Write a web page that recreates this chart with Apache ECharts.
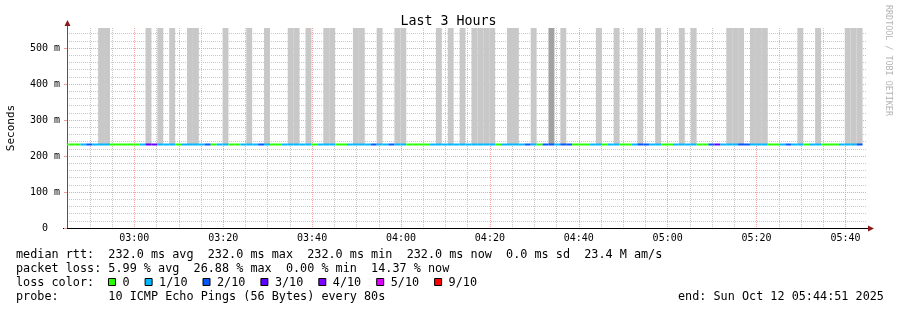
<!DOCTYPE html>
<html><head><meta charset="utf-8">
<script src="https://cdn.jsdelivr.net/npm/echarts@6/dist/echarts.min.js"></script>
<style>html,body{margin:0;padding:0;background:#fff}#c{width:897px;height:310px}</style>
</head><body><div id="c"></div>
<script>
// ---------------- data ----------------
const titleText = 'Last 3 Hours';
const yAxisName = 'Seconds';
const windowStart = '2025-10-12T02:44:51';
const windowEnd = '2025-10-12T05:44:51';
const firstStepStart = '2025-10-12T02:43:51';
const stepSeconds = 80;
const yMaxMs = 555.6;

// median rtt per 80 s step (ms)
const medianMs = [
  232,232,232,232,232,232,232,232,232,232, 232,232,232,232,232,232,232,232,232,232,
  232,232,232,232,232,232,232,232,232,232, 232,232,232,232,232,232,232,232,232,232,
  232,232,232,232,232,232,232,232,232,232, 232,232,232,232,232,232,232,232,232,232,
  232,232,232,232,232,232,232,232,232,232, 232,232,232,232,232,232,232,232,232,232,
  232,232,232,232,232,232,232,232,232,232, 232,232,232,232,232,232,232,232,232,232,
  232,232,232,232,232,232,232,232,232,232, 232,232,232,232,232,232,232,232,232,232,
  232,232,232,232,232,232,232,232,232,232, 232,232,232,232,232
];
// lost pings (of 10) per step
const lossTenths = [
  0,0,0,1,2,1,1,1,0,0, 0,0,0,1,3,3,1,1,1,0,
  1,1,1,1,2,0,1,1,0,0, 1,1,1,2,1,0,0,1,1,1,
  1,1,0,1,1,1,0,0,1,1, 1,1,2,1,1,2,1,1,0,0,
  0,0,1,1,1,1,1,1,1,1, 1,1,1,0,1,1,1,1,2,1,
  0,2,2,1,2,2,0,0,0,1, 1,0,1,1,0,0,1,2,2,1,
  1,0,0,1,1,1,1,0,0,2, 3,1,1,1,2,2,1,1,1,0,
  0,1,2,1,1,0,1,1,0,0, 0,1,1,1,2
];
// smoke layers reaching the top per step (0 none, 1 light, 2 dark)
const smokeLayers = [
  0,0,0,0,0,0,1,1,0,0, 0,0,0,0,1,0,1,0,1,0,
  0,1,1,0,0,0,0,1,0,0, 0,1,0,0,1,0,0,0,1,1,
  0,1,0,0,1,1,0,0,0,1, 1,0,0,1,0,0,1,1,0,0,
  0,0,0,1,0,1,0,1,0,1, 1,1,1,0,0,1,1,0,0,1,
  0,0,2,0,1,0,0,0,0,0, 1,0,0,1,0,0,0,1,0,0,
  1,0,0,0,1,0,1,0,0,0, 0,0,1,1,1,0,1,1,1,0,
  0,0,0,0,1,0,0,1,0,0, 0,0,1,1,1
];
const lossLevels = [0, 1, 2, 3, 4, 5, 9];
const lossLabels = ['0', '1/10', '2/10', '3/10', '4/10', '5/10', '9/10'];
const statLines = [
  'median rtt:  232.0 ms avg  232.0 ms max  232.0 ms min  232.0 ms now  0.0 ms sd  23.4 M am/s',
  'packet loss: 5.99 % avg  26.88 % max  0.00 % min  14.37 % now'
];
const lossColorLabel = 'loss color:';
const probeText = 'probe:       10 ICMP Echo Pings (56 Bytes) every 80s';
const endText = 'end: Sun Oct 12 05:44:51 2025';
const watermark = 'RRDTOOL / TOBI OETIKER';

// ---------------- styles ----------------
const lossColorMap = {0:'#26ff00',1:'#00b8ff',2:'#0059ff',3:'#5e00ff',4:'#7e00ff',5:'#dd00ff',9:'#ff0000'};
const smokeColors = {1:'#c8c8c8', 2:'#a2a2a2'};
const MONO = '"DejaVu Sans Mono", monospace';
const LEGEND_FONT = '11.8px ' + MONO;

// ---------------- build ----------------
const t0 = new Date(firstStepStart).getTime();
const steps = medianMs.map((m, i) => [t0 + i*stepSeconds*1000, t0 + (i+1)*stepSeconds*1000, m, lossTenths[i], smokeLayers[i]]);

const chart = echarts.init(document.getElementById('c'), null, {renderer:'canvas'});
const pad2 = n => (n < 10 ? '0' : '') + n;
const xMin = new Date(windowStart).getTime();
const xMax = new Date(windowEnd).getTime();

const legendGraphics = [];
let lx = 108;
lossLabels.forEach((lab, i) => {
  legendGraphics.push({type:'rect', shape:{x:lx+0.5, y:278.5, width:7, height:7},
    style:{fill:lossColorMap[lossLevels[i]], stroke:'#000', lineWidth:1}});
  legendGraphics.push({type:'text', x:lx+14.5, y:282.5, style:{text:lab, font:LEGEND_FONT, fill:'#000', verticalAlign:'middle'}});
  lx = lx + 14.5 + lab.length*7.1 + 15;
});

chart.setOption({
  backgroundColor:'#fff',
  animation:false,
  title:{text:titleText, left:'center', top:10, textStyle:{fontFamily:MONO, fontSize:13.3, fontWeight:'normal', color:'#000'}},
  grid:{left:67, top:28, width:800, height:200, containLabel:false, outerBoundsMode:'none'},
  xAxis:[
    {type:'time', min:xMin, max:xMax, minInterval:25*60000, maxInterval:25*60000, z:1,
     axisLine:{show:true, lineStyle:{color:'#000', width:1}},
     axisTick:{show:false},
     axisLabel:{margin:5, fontFamily:MONO, fontSize:10, color:'#000', showMinLabel:false, showMaxLabel:false,
       formatter:v => { const d = new Date(v); if (d.getSeconds() !== 0 || d.getMinutes() % 20 !== 0) return ''; return pad2(d.getHours())+':'+pad2(d.getMinutes()); }},
     splitLine:{show:true, showMinLine:false, showMaxLine:false, lineStyle:{color:'#f2a4a4', type:[1,1], width:1}}},
    {type:'time', min:xMin, max:xMax, minInterval:7*60000, maxInterval:7*60000, z:0,
     axisLine:{show:false}, axisTick:{show:false}, axisLabel:{show:false},
     splitLine:{show:true, showMinLine:false, showMaxLine:false, lineStyle:{color:'#c8c8c8', type:[1,1], width:1}}}
  ],
  yAxis:[
    {type:'value', min:0, max:yMaxMs, interval:100, z:1,
     name:yAxisName, nameLocation:'middle', nameGap:50, nameTextStyle:{fontFamily:MONO, fontSize:11, color:'#000'},
     axisLine:{show:true, lineStyle:{color:'#555', width:1}},
     axisTick:{show:true, length:3, lineStyle:{color:'#e8a0a0'}},
     axisLabel:{margin:7, fontFamily:MONO, fontSize:10, color:'#000', showMaxLabel:false,
       formatter:v => v === 0 ? '0  ' : (v + ' m')},
     splitLine:{show:true, showMinLine:false, showMaxLine:false, lineStyle:{color:'#f2a4a4', type:[1,1], width:1}}},
    {type:'value', min:0, max:yMaxMs, interval:20, z:0, position:'left',
     axisLine:{show:false}, axisTick:{show:false}, axisLabel:{show:false},
     splitLine:{show:true, showMinLine:false, showMaxLine:false, lineStyle:{color:'#c8c8c8', type:[1,1], width:1}}}
  ],
  series:[
    {type:'custom', name:'smoke', xAxisIndex:0, yAxisIndex:0, clip:true, z:2,
     data:steps, encode:{x:[0,1], y:2},
     renderItem:(params, api) => {
       const layers = api.value(4);
       if (!layers) return null;
       const a = api.coord([api.value(0), yMaxMs]);
       const b = api.coord([api.value(1), api.value(2)]);
       return {type:'rect', shape:{x:a[0], y:a[1], width:b[0]-a[0], height:b[1]-a[1]}, style:{fill:smokeColors[layers]}};
     }},
    {type:'custom', name:'median rtt', xAxisIndex:0, yAxisIndex:0, clip:true, z:3,
     data:steps, encode:{x:[0,1], y:2},
     renderItem:(params, api) => {
       const a = api.coord([api.value(0), api.value(2)]);
       const b = api.coord([api.value(1), api.value(2)]);
       return {type:'rect', shape:{x:a[0], y:a[1]-1, width:b[0]-a[0], height:2}, style:{fill:lossColorMap[api.value(3)]}};
     }}
  ],
  graphic:[
    {type:'line', shape:{x1:63, y1:228.5, x2:67, y2:228.5}, style:{stroke:'#000', lineWidth:1}},
    {type:'line', shape:{x1:867, y1:228.5, x2:869, y2:228.5}, style:{stroke:'#000', lineWidth:1}},
    {type:'polygon', shape:{points:[[868,225.5],[874,228.5],[868,231.5]]}, style:{fill:'#8b1a1a'}},
    {type:'line', shape:{x1:67.5, y1:24, x2:67.5, y2:28}, style:{stroke:'#555', lineWidth:1}},
    {type:'polygon', shape:{points:[[64.5,26],[67.5,20],[70.5,26]]}, style:{fill:'#8b1a1a'}},
    {type:'text', x:16, y:254.5, style:{text:statLines[0], font:LEGEND_FONT, fill:'#000', verticalAlign:'middle'}},
    {type:'text', x:16, y:268.5, style:{text:statLines[1], font:LEGEND_FONT, fill:'#000', verticalAlign:'middle'}},
    {type:'text', x:16, y:282.5, style:{text:lossColorLabel, font:LEGEND_FONT, fill:'#000', verticalAlign:'middle'}},
    {type:'text', x:16, y:296.5, style:{text:probeText, font:LEGEND_FONT, fill:'#000', verticalAlign:'middle'}},
    {type:'text', x:678, y:296.5, style:{text:endText, font:LEGEND_FONT, fill:'#000', verticalAlign:'middle'}},
    {type:'text', x:888, y:5, rotation:-Math.PI/2, style:{text:watermark, font:'8.4px '+MONO, fill:'#b4b4b4', verticalAlign:'middle'}}
  ].concat(legendGraphics)
});
</script></body></html>
